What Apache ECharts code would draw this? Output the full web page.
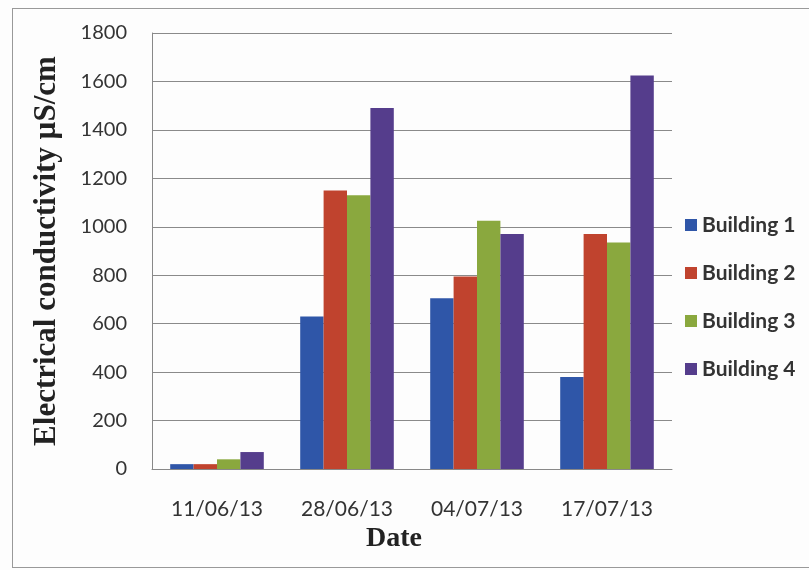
<!DOCTYPE html>
<html>
<head>
<meta charset="utf-8">
<script src="https://cdn.jsdelivr.net/npm/echarts@6/dist/echarts.min.js"></script>
<style>
  html, body { margin: 0; padding: 0; background: #fdfdfd; }
  #frame {
    position: absolute; left: 12px; top: 8px; width: 820px; height: 558px;
    border-left: 1px solid #999; border-top: 1px solid #999; border-bottom: 1px solid #999;
  }
  #chart { position: absolute; left: 0; top: 0; width: 809px; height: 570px; }
</style>
</head>
<body>
<div id="frame"></div>
<div id="chart"></div>
<script>
// data
var dates = ["11/06/13", "28/06/13", "04/07/13", "17/07/13"];
var building1 = [20, 630, 705, 380];
var building2 = [20, 1150, 795, 970];
var building3 = [40, 1130, 1025, 935];
var building4 = [70, 1490, 970, 1625];
var names = ["Building 1", "Building 2", "Building 3", "Building 4"];
var colors = ["#2f56a8", "#c0432e", "#8aa83e", "#553d8c"];

var myChart = echarts.init(document.getElementById("chart"));

function bar(name, data, color) {
  return {
    name: name,
    type: "bar",
    data: data,
    barGap: "0%",
    barCategoryGap: "28%",
    itemStyle: { color: color }
  };
}

myChart.setOption({
  animation: false,
  color: colors,
  grid: { left: 152, right: 137, top: 33, bottom: 101 },
  legend: {
    orient: "vertical",
    left: 680,
    top: 209,
    itemWidth: 12,
    itemHeight: 12,
    itemGap: 26,
    icon: "rect",
    textStyle: { fontFamily: "Lato", fontWeight: "bold", fontSize: 21, lineHeight: 22, color: "#333" },
    data: names
  },
  xAxis: {
    type: "category",
    data: dates,
    name: "Date",
    nameLocation: "middle",
    nameGap: 46,
    nameTextStyle: {
      fontFamily: "Liberation Serif", fontWeight: "bold", fontSize: 28, color: "#222",
      padding: [0, 36, 0, 0]
    },
    axisLine: { lineStyle: { color: "#888" } },
    axisTick: { show: false },
    axisLabel: { margin: 30, fontFamily: "Lato", fontSize: 21, color: "#333" }
  },
  yAxis: {
    type: "value",
    min: 0,
    max: 1800,
    interval: 200,
    name: "Electrical conductivity µS/cm",
    nameLocation: "middle",
    nameGap: 90,
    nameTextStyle: { fontFamily: "Liberation Serif", fontWeight: "bold", fontSize: 31, color: "#222" },
    axisLine: { show: true, lineStyle: { color: "#888" } },
    axisTick: { show: false },
    axisLabel: {
      margin: 25, fontFamily: "Lato", fontSize: 20, color: "#333",
      formatter: function (v) { return String(v); }
    },
    splitLine: { lineStyle: { color: "#8a8a8a" } }
  },
  series: [
    bar(names[0], building1, colors[0]),
    bar(names[1], building2, colors[1]),
    bar(names[2], building3, colors[2]),
    bar(names[3], building4, colors[3])
  ]
});

window.onresize = function () {
  myChart.resize();
};
</script>
</body>
</html>
